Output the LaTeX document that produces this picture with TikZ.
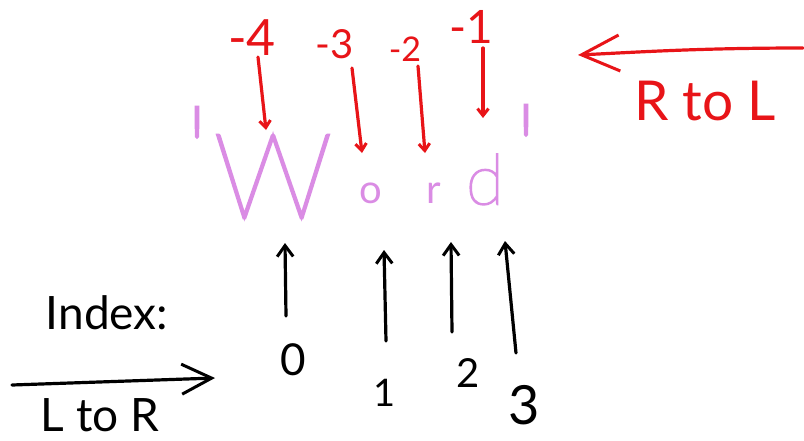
\documentclass[tikz,border=0pt]{standalone}
\usepackage{fontspec}
\newfontfamily\handfont{Lato}
\newfontfamily\thinfont{Lato Hairline}[FakeBold=2.5]
\usetikzlibrary{arrows.meta}
\definecolor{inkred}{RGB}{232,20,24}
\definecolor{inkpink}{RGB}{218,140,228}
\tikzset{
  redlbl/.style={text=inkred, inner sep=0pt, font=\handfont\fontsize{#1}{#1}\selectfont},
  blklbl/.style={text=black, inner sep=0pt, font=\handfont\fontsize{#1}{#1}\selectfont},
  pinklbl/.style={text=inkpink, inner sep=0pt, anchor=south, font=\handfont\fontsize{#1}{#1}\selectfont},
  pinkthin/.style={text=inkpink, inner sep=0pt, anchor=south, font=\thinfont\fontsize{#1}{#1}\selectfont},
  ink/.style={line width=3.2pt, line cap=round, line join=round},
  redsmall/.style={ink, draw=inkred, -{Straight Barb[length=7pt,width=11pt,line width=3pt]}},
  redbig/.style={ink, draw=inkred, -{Straight Barb[length=38pt,width=36pt,line width=3pt]}},
  blksmall/.style={ink, draw=black, -{Straight Barb[length=11pt,width=16pt,line width=3pt]}},
  blkbig/.style={ink, draw=black, -{Straight Barb[length=30pt,width=30pt,line width=3pt]}}
}
\begin{document}
\begin{tikzpicture}[x=1pt,y=-1pt]
\useasboundingbox (0,0) rectangle (804,440);
\fill[white] (0,0) rectangle (804,440);

% pink word
\node[pinkthin=130, anchor=north] (q1) at (197,107) {\textquotesingle};
\node[pinkthin=118] (W) at (273,218) {W};
\node[pinklbl=40] (o) at (371,204) {o};
\node[pinklbl=40] (r) at (434,204) {r};
\node[pinkthin=70] (d) at (485,205) {d};
\node[pinkthin=130, anchor=north] (q2) at (526,105) {\textquotesingle};

% negative indices
\node[redlbl=50] (m4) at (252,38) {-4};
\node[redlbl=40] (m3) at (335,44) {-3};
\node[redlbl=34] (m2) at (405,49) {-2};
\node[redlbl=46] (m1) at (471,27) {-1};

\coordinate (m4a) at (258,57);  \coordinate (m4b) at (266,130);
\coordinate (m3a) at (352,68);  \coordinate (m3b) at (362,153);
\coordinate (m2a) at (418,66);  \coordinate (m2b) at (425,153);
\coordinate (m1a) at (483,48);  \coordinate (m1b) at (483,118);
\draw[redsmall] (m4a) -- (m4b);
\draw[redsmall] (m3a) -- (m3b);
\draw[redsmall] (m2a) -- (m2b);
\draw[redsmall] (m1a) -- (m1b);

% R to L
\coordinate (rlA) at (803,48);
\coordinate (rlB) at (578,55);
\draw[redbig] (rlA) .. controls (700,48) and (640,52) .. (rlB);
\node[redlbl=55] (rtol) at (705,101) {R to L};

% positive indices
\node[blklbl=44] (p0) at (293,360) {0};
\node[blklbl=38] (p1) at (385,393) {1};
\node[blklbl=40] (p2) at (468,373) {2};
\node[blklbl=54] (p3) at (524,405) {3};

\coordinate (p0a) at (286,316); \coordinate (p0b) at (285,243);
\coordinate (p1a) at (386,341); \coordinate (p1b) at (384,250);
\coordinate (p2a) at (452,332); \coordinate (p2b) at (451,242);
\coordinate (p3a) at (516,353); \coordinate (p3b) at (505,241);
\draw[blksmall] (p0a) -- (p0b);
\draw[blksmall] (p1a) -- (p1b);
\draw[blksmall] (p2a) -- (p2b);
\draw[blksmall] (p3a) -- (p3b);

% Index: L to R
\node[blklbl=46] (idx) at (107,313) {Index:};
\coordinate (lrA) at (12,385);
\coordinate (lrB) at (215,378);
\draw[blkbig] (lrA) -- (lrB);
\node[blklbl=46] (ltor) at (100,415) {L to R};
\end{tikzpicture}
\end{document}
